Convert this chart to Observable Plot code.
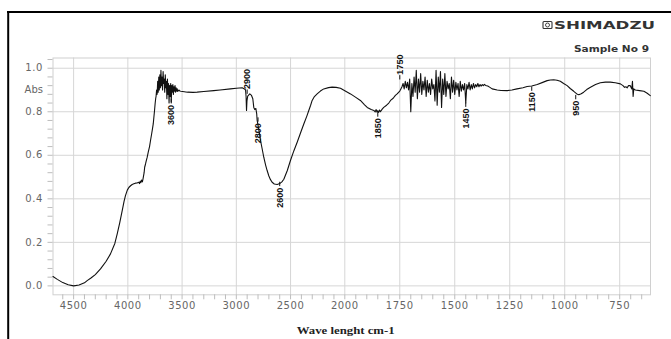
<!DOCTYPE html>
<html>
<head>
<meta charset="utf-8">
<script src="https://cdn.jsdelivr.net/npm/d3@7"></script>
<script src="https://cdn.jsdelivr.net/npm/@observablehq/plot@0.6"></script>
<style>
  html, body { margin: 0; padding: 0; background: #fff; }
  #chart svg { display: block; }
  g[aria-label$="tick label"] text { letter-spacing: 0.6px; }
</style>
</head>
<body>
<div id="chart"></div>
<script>
// FTIR spectrum of sample No 9: wavenumber (cm-1) and absorbance
const wavenumber = [
  4690, 4650, 4600, 4550, 4500, 4450, 4400, 4375, 4340, 4300, 4252, 4200, 4160, 4120, 4098, 4075, 4052, 4035, 4022, 4005,
  3991, 3975, 3960, 3945, 3930, 3915, 3900, 3893, 3886, 3880, 3874, 3866, 3860, 3850, 3845, 3837, 3830, 3822, 3812, 3800,
  3791, 3780, 3772, 3766, 3760, 3754, 3748, 3743,
  3740, 3735, 3730, 3725, 3720, 3715, 3710, 3705, 3700, 3695, 3690, 3685, 3680, 3675, 3670, 3665, 3660, 3655, 3650, 3645,
  3640, 3635, 3630, 3625, 3620, 3615, 3610, 3605, 3600, 3595, 3590, 3585, 3580, 3575, 3570, 3565, 3560, 3555, 3550, 3545,
  3540, 3530, 3520, 3510,
  3450, 3400, 3361, 3300, 3208, 3150, 3054, 3000, 2946, 2925, 2915, 2910, 2906, 2902, 2895, 2876, 2860, 2848, 2839, 2830,
  2820, 2812, 2808, 2790, 2777, 2762, 2747, 2730, 2716, 2700, 2685, 2670, 2650, 2623, 2600, 2580, 2562, 2530, 2501, 2470,
  2439, 2410, 2378, 2350, 2332, 2315, 2301, 2280, 2255, 2225, 2194, 2150, 2117, 2080, 2040, 2000, 1974, 1950, 1929, 1910,
  1898, 1880, 1868, 1862, 1858, 1853, 1850, 1846, 1842, 1838, 1830, 1823, 1810, 1800, 1792, 1780, 1770, 1762, 1750, 1745,
  1740, 1735, 1730, 1725, 1720, 1715, 1710, 1705, 1700, 1695, 1690, 1685, 1680, 1675, 1670, 1665, 1660, 1655, 1650, 1645,
  1640, 1635, 1630, 1625, 1620, 1615, 1610, 1605, 1600, 1595, 1590, 1585, 1580, 1575, 1570, 1565, 1560, 1555, 1550, 1545,
  1540, 1535, 1530, 1525, 1520, 1515, 1510, 1505, 1500, 1495, 1490, 1485, 1480, 1475, 1470, 1465, 1460, 1455, 1450, 1445,
  1440, 1435, 1430, 1425, 1420, 1415, 1410, 1405, 1400, 1395, 1390, 1385, 1380, 1375, 1370, 1365, 1360, 1350, 1340, 1330,
  1307, 1290, 1262, 1240, 1217, 1190, 1171, 1150, 1125, 1100, 1080, 1065, 1050, 1035, 1020, 1005, 989, 975, 959, 945,
  936, 925, 914, 900, 883, 860, 838, 815, 793, 770, 747, 735, 728, 722, 716, 710, 702, 695, 692, 689,
  686, 679, 660, 640, 625, 611
];
const absorbance = [
  0.043, 0.030, 0.015, 0.005, 0.000, 0.004, 0.014, 0.024, 0.036, 0.052, 0.078, 0.113, 0.147, 0.195, 0.239, 0.290, 0.346, 0.388, 0.415, 0.440,
  0.452, 0.460, 0.466, 0.469, 0.472, 0.473, 0.476, 0.470, 0.481, 0.474, 0.486, 0.478, 0.492, 0.520, 0.545, 0.560, 0.575, 0.590, 0.615, 0.640,
  0.668, 0.700, 0.725, 0.744, 0.775, 0.806, 0.840, 0.862,
  0.870, 0.900, 0.880, 0.940, 0.890, 0.960, 0.900, 0.970, 0.910, 0.990, 0.920, 0.960, 0.900, 0.985, 0.930, 0.950, 0.890, 0.970, 0.910, 0.940,
  0.860, 0.950, 0.880, 0.930, 0.840, 0.920, 0.870, 0.930, 0.845, 0.920, 0.890, 0.925, 0.880, 0.915, 0.895, 0.920, 0.890, 0.910, 0.895, 0.905,
  0.893, 0.900, 0.895, 0.894,
  0.890, 0.889, 0.890, 0.893, 0.897, 0.900, 0.905, 0.908, 0.910, 0.905, 0.900, 0.870, 0.806, 0.850, 0.872, 0.882, 0.875, 0.860, 0.820, 0.810,
  0.815, 0.790, 0.760, 0.710, 0.668, 0.630, 0.591, 0.555, 0.530, 0.505, 0.488, 0.476, 0.468, 0.466, 0.470, 0.478, 0.490, 0.530, 0.576, 0.620,
  0.660, 0.700, 0.744, 0.780, 0.806, 0.830, 0.852, 0.870, 0.882, 0.895, 0.905, 0.911, 0.913, 0.912, 0.908, 0.897, 0.882, 0.866, 0.852, 0.832,
  0.820, 0.810, 0.806, 0.799, 0.810, 0.798, 0.805, 0.797, 0.808, 0.800, 0.812, 0.820, 0.830, 0.840, 0.852, 0.862, 0.875, 0.882, 0.895, 0.905,
  0.915, 0.930, 0.905, 0.940, 0.910, 0.935, 0.900, 0.950, 0.800, 0.930, 0.870, 0.960, 0.890, 0.990, 0.860, 0.950, 0.890, 0.975, 0.880, 0.940,
  0.900, 0.960, 0.870, 0.945, 0.890, 0.930, 0.880, 0.950, 0.905, 0.925, 0.850, 0.990, 0.830, 0.960, 0.890, 0.985, 0.820, 0.950, 0.880, 0.975,
  0.870, 0.940, 0.905, 0.930, 0.860, 0.960, 0.890, 0.945, 0.880, 0.935, 0.900, 0.930, 0.870, 0.940, 0.895, 0.925, 0.900, 0.930, 0.840, 0.925,
  0.905, 0.935, 0.900, 0.925, 0.905, 0.930, 0.910, 0.925, 0.915, 0.930, 0.915, 0.925, 0.918, 0.925, 0.920, 0.926, 0.921, 0.918, 0.912, 0.905,
  0.900, 0.898, 0.897, 0.900, 0.905, 0.910, 0.916, 0.918, 0.925, 0.935, 0.943, 0.946, 0.947, 0.945, 0.940, 0.930, 0.920, 0.907, 0.894, 0.882,
  0.878, 0.883, 0.890, 0.902, 0.913, 0.925, 0.933, 0.936, 0.936, 0.933, 0.928, 0.920, 0.912, 0.915, 0.910, 0.920, 0.920, 0.905, 0.940, 0.870,
  0.905, 0.900, 0.897, 0.894, 0.885, 0.874
];

// Axis ticks
const xTicks = [4500, 4000, 3500, 3000, 2500, 2000, 1750, 1500, 1250, 1000, 750];
const yTicks = [0.0, 0.2, 0.4, 0.6, 0.8, 1.0];

// Picked peaks: wavenumber, absorbance level of the label's near end, side of the trace
const peakWave  = [3600, 2900, 2800, 2600, 1850, 1750, 1450, 1150, 950];
const peakLevel = [0.836, 0.900, 0.752, 0.456, 0.775, 0.966, 0.820, 0.894, 0.855];
const peakSide  = ["below", "above", "below", "below", "below", "above", "below", "below", "below"];

const spectrum = wavenumber.map((w, i) => ({w, a: absorbance[i]}));
const peaks = peakWave.map((w, i) => ({w, level: peakLevel[i], side: peakSide[i], label: String(w)}));
const peaksBelow = peaks.filter(d => d.side === "below");
const peaksAbove = peaks.filter(d => d.side === "above");

// Minor ticks: 100 cm-1 above 2000, 50 cm-1 below; 0.04 on absorbance
const minorX = d3.range(4600, 2000, -100).concat(d3.range(2000, 600, -50));
const minorY = d3.range(0, 1.05, 0.04);

const W = 671, H = 339;
const frameLeft = 52.5, frameRight = 650, frameTop = 57.5, frameBottom = 294.3;

const labelFont = {fontFamily: "Liberation Sans", fontSize: 9, fontWeight: "bold", fill: "#111"};

const plot = Plot.plot({
  width: W,
  height: H,
  marginLeft: frameLeft,
  marginRight: W - frameRight,
  marginTop: frameTop,
  marginBottom: H - frameBottom,
  style: {fontFamily: "DejaVu Sans", fontSize: "10px", background: "#fff", overflow: "visible"},
  x: {type: "linear", domain: [4690, 2000, 610], range: [frameLeft, 344.3, frameRight], label: null},
  y: {domain: [-0.041, 1.047], range: [frameBottom, frameTop], label: null},
  marks: [
    Plot.gridX(xTicks, {stroke: "#d6d6d6", strokeOpacity: 1}),
    Plot.gridY(yTicks, {stroke: "#d6d6d6", strokeOpacity: 1}),
    Plot.frame({stroke: "#d0d0d0"}),
    Plot.axisX(minorX, {tickSize: 5, stroke: "#bdbdbd", tickFormat: () => "", label: null}),
    Plot.axisY(minorY, {tickSize: 5, stroke: "#bdbdbd", tickFormat: () => "", label: null}),
    Plot.axisX(xTicks, {tickSize: 0, tickPadding: 7, tickFormat: d => String(d), fill: "#666", fontSize: 10, label: null}),
    Plot.axisY(yTicks, {tickSize: 0, tickPadding: 10, tickFormat: d3.format(".1f"), fill: "#666", fontSize: 10, label: null}),
    Plot.text([0.9], {y: d => d, text: () => "Abs", frameAnchor: "left", textAnchor: "end", dx: -10, fill: "#666", fontSize: 10}),
    Plot.line(spectrum, {x: "w", y: "a", stroke: "#111", strokeWidth: 1.1}),
    // short leaders from the trace to each peak label
    Plot.ruleX(peaksBelow, {x: "w", y1: "level", y2: d => d.level + 0.02, stroke: "#111", strokeWidth: 1}),
    Plot.ruleX(peaksAbove, {x: "w", y1: "level", y2: d => d.level - 0.02, stroke: "#111", strokeWidth: 1}),
    Plot.text(peaksBelow, {x: "w", y: "level", text: "label", rotate: -90, textAnchor: "end", lineAnchor: "middle", dy: 1, ...labelFont}),
    Plot.text(peaksAbove, {x: "w", y: "level", text: "label", rotate: -90, textAnchor: "start", lineAnchor: "middle", dy: -1, ...labelFont})
  ]
});

const svg = d3.select(plot);

// Report frame
svg.append("line").attr("x1", 7).attr("x2", W).attr("y1", 12).attr("y2", 12)
  .attr("stroke", "#000").attr("stroke-width", 2);
svg.append("line").attr("x1", 8.2).attr("x2", 8.2).attr("y1", 11).attr("y2", H)
  .attr("stroke", "#000").attr("stroke-width", 2);

// Instrument logo
const logo = svg.append("g").attr("stroke", "#333").attr("fill", "none");
logo.append("rect").attr("x", 543).attr("y", 21.5).attr("width", 9).attr("height", 7).attr("rx", 1).attr("stroke-width", 1.1);
logo.append("circle").attr("cx", 547.5).attr("cy", 25).attr("r", 2).attr("stroke-width", 0.9);
svg.append("text").attr("x", 554).attr("y", 29).attr("text-anchor", "start")
  .attr("font-family", "DejaVu Sans").attr("font-weight", "bold").attr("font-size", 10.5)
  .attr("fill", "#333").attr("textLength", 101).attr("lengthAdjust", "spacingAndGlyphs")
  .text("SHIMADZU");

svg.append("text").attr("x", 574).attr("y", 52.3).attr("text-anchor", "start")
  .attr("font-family", "DejaVu Sans").attr("font-weight", "bold").attr("font-size", 8.5)
  .attr("fill", "#333").attr("textLength", 75).attr("lengthAdjust", "spacingAndGlyphs")
  .text("Sample No 9");

// Axis title
svg.append("text").attr("x", 345.7).attr("y", 334).attr("text-anchor", "middle")
  .attr("font-family", "Liberation Serif").attr("font-weight", "bold").attr("font-size", 10.5)
  .attr("fill", "#222").attr("textLength", 98).attr("lengthAdjust", "spacingAndGlyphs")
  .text("Wave lenght cm-1");

document.getElementById("chart").append(plot);
</script>
</body>
</html>
